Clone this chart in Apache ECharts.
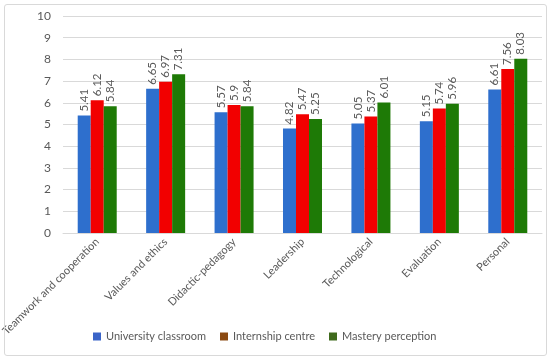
<!DOCTYPE html>
<html><head><meta charset="utf-8">
<script src="https://cdn.jsdelivr.net/npm/echarts@6/dist/echarts.min.js"></script>
<style>html,body{margin:0;padding:0;background:#fff}#c{width:550px;height:361px}
#frame{position:absolute;left:4px;top:4px;width:543px;height:352px;border:1px solid #d9d9d9;border-radius:3px;box-sizing:border-box;pointer-events:none}</style>
</head><body><div id="c"></div><div id="frame"></div>
<script>
const categories = ["Teamwork and cooperation","Values and ethics","Didactic-pedagogy","Leadership","Technological","Evaluation","Personal"];
const university = [5.41,6.65,5.57,4.82,5.05,5.15,6.61];
const internship = [6.12,6.97,5.9,5.47,5.37,5.74,7.56];
const mastery = [5.84,7.31,5.84,5.25,6.01,5.96,8.03];
const seriesNames = ["University classroom","Internship centre","Mastery perception"];
const yTicks = [0,10,1];

const font = "Lato, 'Open Sans', sans-serif";
const chart = echarts.init(document.getElementById('c'));
const lbl = {show:true, position:'top', rotate:90, align:'left', verticalAlign:'middle', distance:4, color:'#595959', fontSize:11.5, fontFamily:font, formatter:p=>String(p.value)};
function s(name, data, color){
  return {name, type:'bar', data, itemStyle:{color}, barGap:'0%', barCategoryGap:'43%', label:lbl};
}
chart.setOption({
  animation:false,
  textStyle:{fontFamily:font},
  grid:{left:63,right:8,top:16,bottom:128,containLabel:false,outerBoundsMode:'none'},
  legend:{bottom:14,left:88,itemWidth:8,itemHeight:8,itemGap:14,icon:'rect',
    textStyle:{color:'#595959',fontSize:11,fontFamily:font},
    data:[{name:seriesNames[0],itemStyle:{color:'#3A64C8'}},{name:seriesNames[1],itemStyle:{color:'#8B4A12'}},{name:seriesNames[2],itemStyle:{color:'#3F6A1C'}}]},
  xAxis:{type:'category',data:categories,axisTick:{show:false},axisLine:{lineStyle:{color:'#d9d9d9'}},
    axisLabel:{rotate:45,interval:0,color:'#595959',fontSize:11,fontFamily:font,margin:7}},
  yAxis:{type:'value',min:yTicks[0],max:yTicks[1],interval:yTicks[2],
    axisLabel:{color:'#595959',fontSize:12,fontFamily:font,margin:12},
    splitLine:{lineStyle:{color:'#d9d9d9'}},axisLine:{show:false},axisTick:{show:false}},
  series:[s(seriesNames[0],university,'#2E6FCD'),s(seriesNames[1],internship,'#F20000'),s(seriesNames[2],mastery,'#1E7A06')]
});
</script></body></html>
